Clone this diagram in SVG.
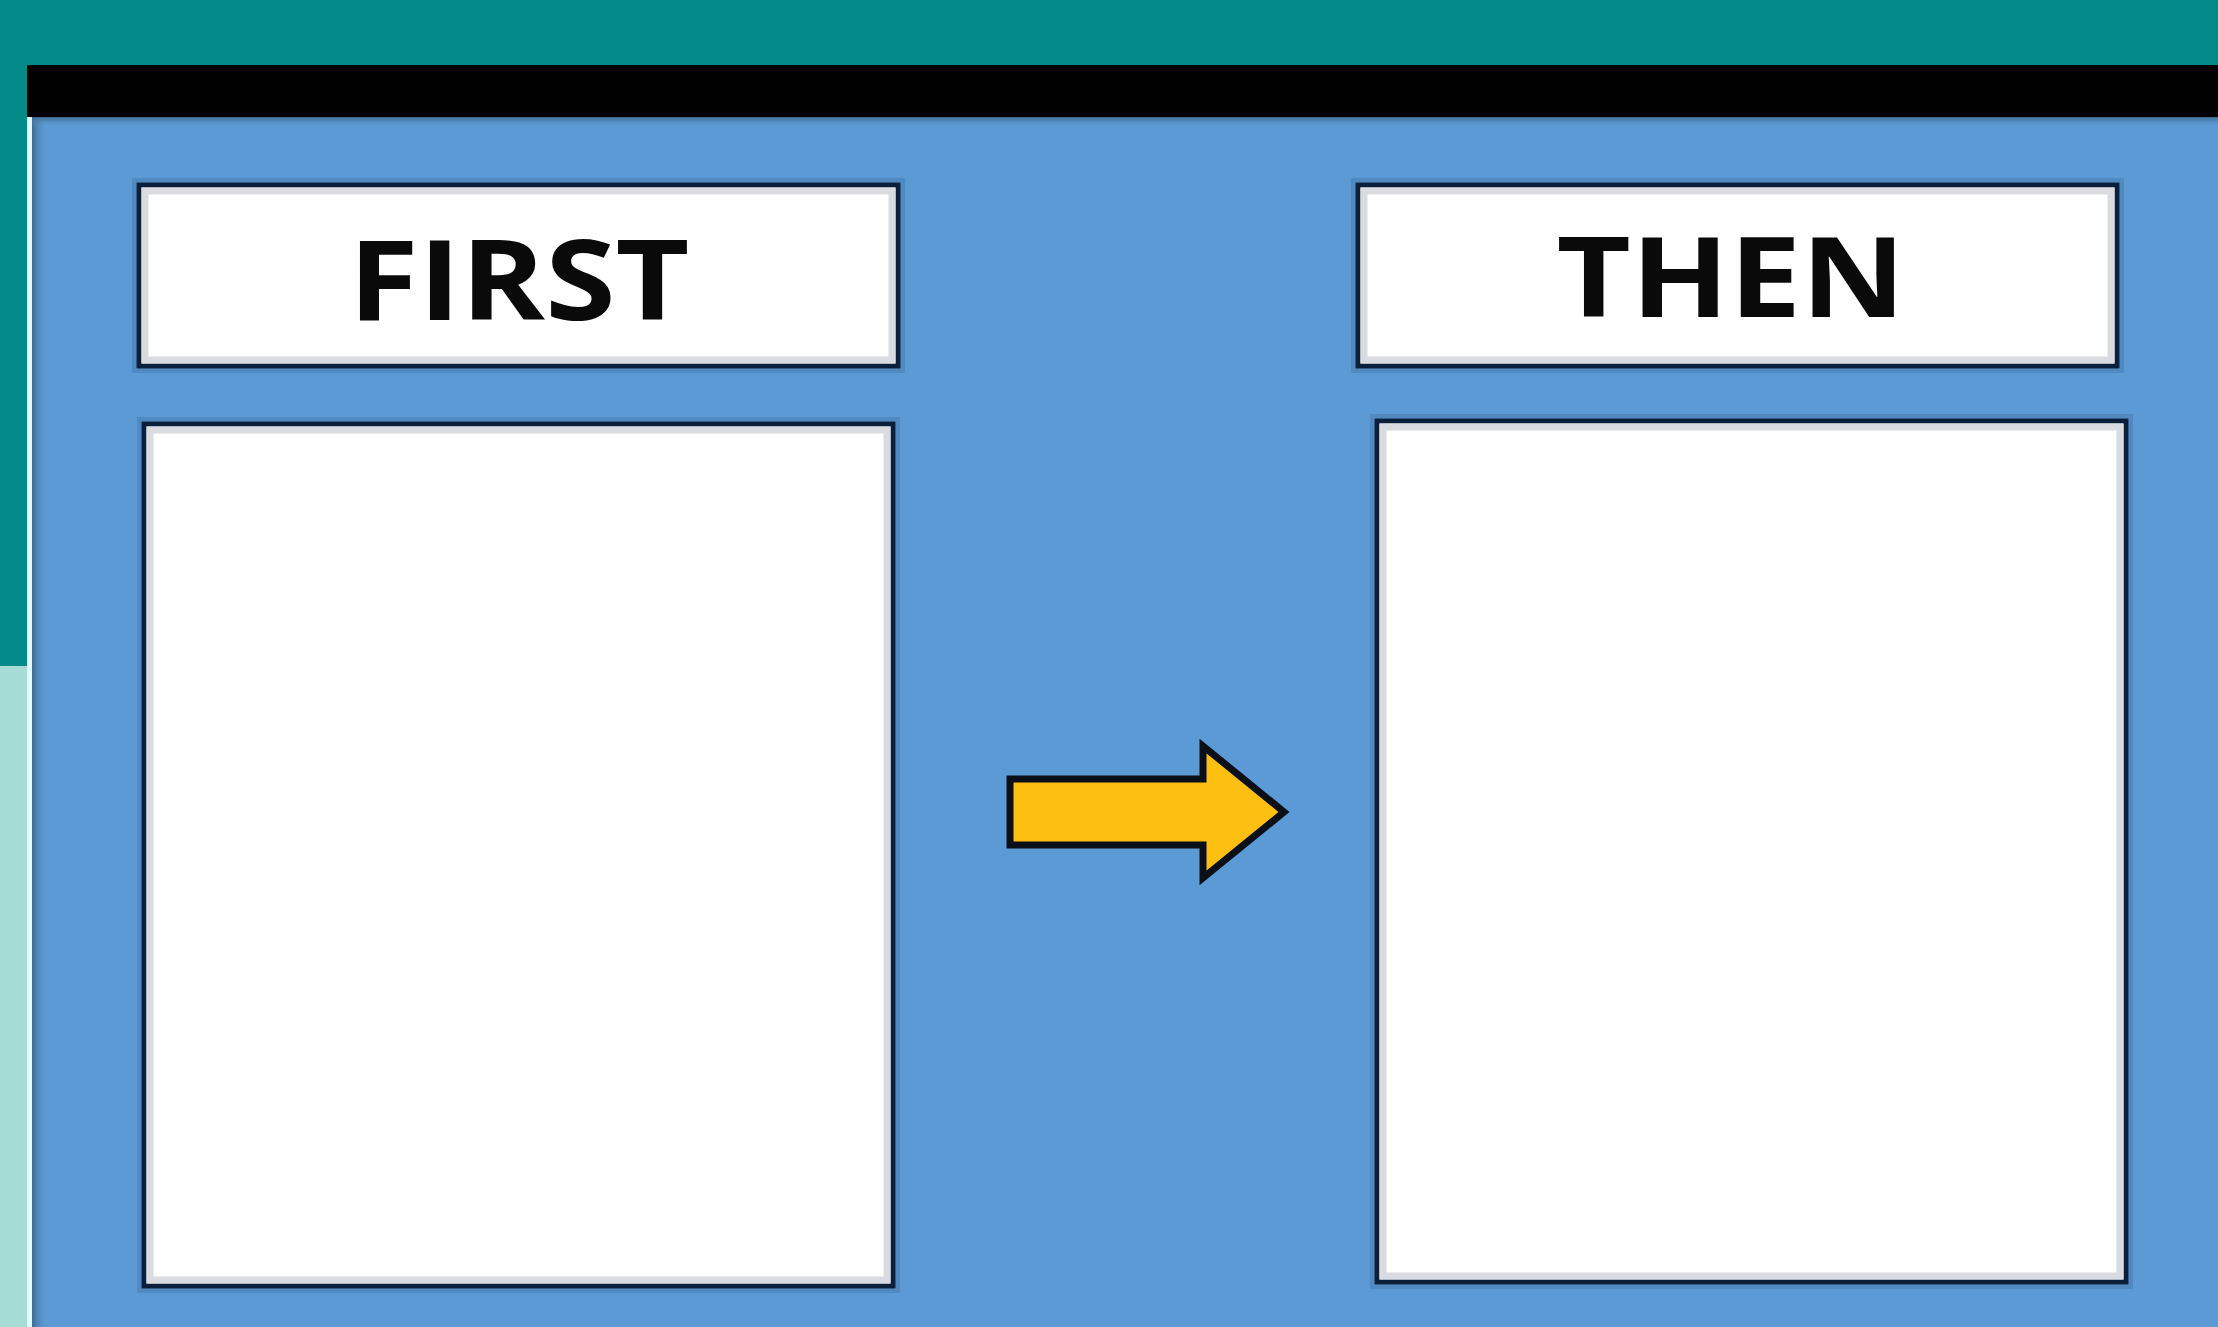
<svg xmlns="http://www.w3.org/2000/svg" width="2218" height="1327" viewBox="0 0 2218 1327">
  <style>
    .frame { fill: #ffffff; stroke: #0b1f3b; stroke-width: 5; }
    .inner { fill: none; stroke: #d9dbe0; stroke-width: 7; }
    .halo { fill: none; stroke: #4a80b4; stroke-width: 4; opacity: 0.6; }
    .label { font-family: "Open Sans", "Liberation Sans", sans-serif; font-weight: 700; font-size: 111px; fill: #0a0a0a; text-anchor: middle; }
    .arrow { fill: #fdbf12; stroke: #0a0f18; stroke-width: 7; stroke-linejoin: miter; }
  </style>
  <defs>
    <linearGradient id="leftShade" x1="0" y1="0" x2="1" y2="0">
      <stop offset="0" stop-color="#3f6a8e"/>
      <stop offset="1" stop-color="#5b9ad5" stop-opacity="0"/>
    </linearGradient>
    <linearGradient id="topShade" x1="0" y1="0" x2="0" y2="1">
      <stop offset="0" stop-color="#3f6a8e"/>
      <stop offset="1" stop-color="#5b9ad5" stop-opacity="0"/>
    </linearGradient>
  </defs>

  <!-- background -->
  <rect x="0" y="0" width="2218" height="1327" fill="#048a88"/>
  <rect x="0" y="666" width="27" height="661" fill="#a6dcd6"/>
  <rect x="27" y="65" width="2191" height="52" fill="#000000"/>
  <rect x="27" y="117" width="5" height="1210" fill="#e4fbfb"/>
  <rect x="32" y="117" width="2186" height="1210" fill="#5b9ad5"/>
  <rect x="32" y="117" width="16" height="1210" fill="url(#leftShade)"/>
  <rect x="32" y="117" width="2186" height="10" fill="url(#topShade)"/>

  <g id="first-header">
    <rect class="halo" x="134" y="180" width="769" height="191"/>
    <rect class="frame" x="139" y="185" width="759" height="181"/>
    <rect class="inner" x="145" y="191" width="747" height="169"/>
    <text class="label" x="519" y="320" textLength="341" lengthAdjust="spacingAndGlyphs">FIRST</text>
  </g>

  <g id="first-box">
    <rect class="halo" x="139" y="419" width="759" height="872"/>
    <rect class="frame" x="144" y="424" width="749" height="862"/>
    <rect class="inner" x="150" y="430" width="737" height="850"/>
  </g>

  <g id="then-header">
    <rect class="halo" x="1353" y="180" width="769" height="191"/>
    <rect class="frame" x="1358" y="185" width="759" height="181"/>
    <rect class="inner" x="1364" y="191" width="747" height="169"/>
    <text class="label" x="1731" y="317" textLength="349" lengthAdjust="spacingAndGlyphs">THEN</text>
  </g>

  <g id="then-box">
    <rect class="halo" x="1372" y="416" width="759" height="871"/>
    <rect class="frame" x="1377" y="421" width="749" height="861"/>
    <rect class="inner" x="1383" y="427" width="737" height="849"/>
  </g>

  <g id="connectors">
    <path class="arrow" d="M1010,779 L1203,779 L1203,746 L1284,812 L1203,878 L1203,845 L1010,845 Z"/>
  </g>
</svg>
